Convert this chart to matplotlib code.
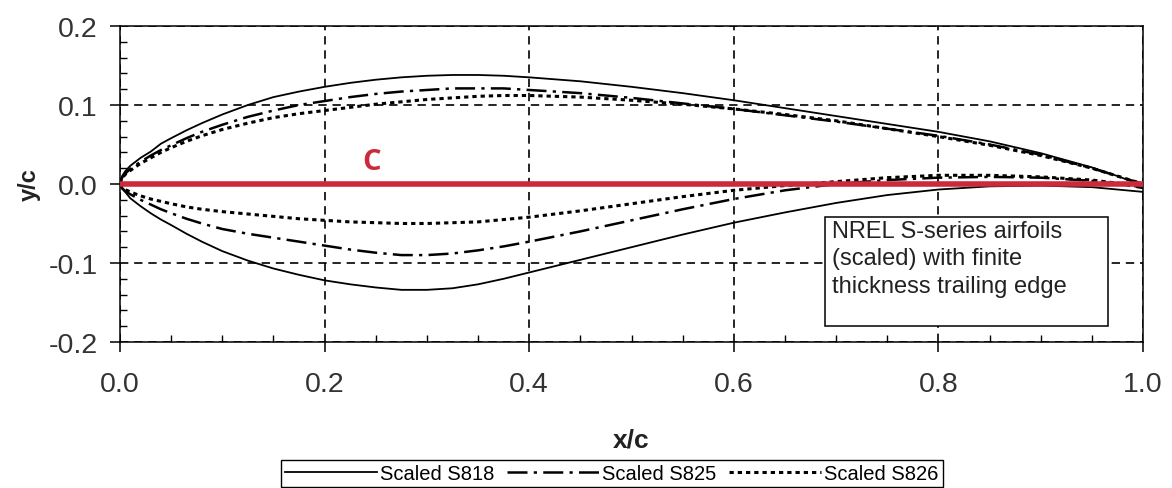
import numpy as np
import matplotlib
matplotlib.use('Agg')
import matplotlib.pyplot as plt
from matplotlib.patches import Rectangle

plt.rcParams['font.family'] = ['Liberation Sans', 'DejaVu Sans']

# chordwise stations (x/c)
x_c = [0, 0.002, 0.005, 0.01, 0.02, 0.03, 0.04, 0.05, 0.065, 0.08, 0.1, 0.125,
       0.15, 0.175, 0.2, 0.225, 0.25, 0.275, 0.3, 0.325, 0.35, 0.375, 0.4, 0.45,
       0.5, 0.55, 0.6, 0.65, 0.7, 0.75, 0.8, 0.85, 0.9, 0.95, 0.975, 1.0]

# S818 surfaces (y/c)
s818_upper = [0, 0.010, 0.016, 0.023, 0.033, 0.041, 0.051, 0.058, 0.068, 0.077, 0.088, 0.100,
              0.110, 0.117, 0.123, 0.128, 0.132, 0.135, 0.137, 0.138, 0.138, 0.137, 0.135, 0.130,
              0.123, 0.115, 0.106, 0.096, 0.086, 0.076, 0.066, 0.054, 0.039, 0.021, 0.010, -0.002]
s818_lower = [0, -0.006, -0.010, -0.018, -0.028, -0.037, -0.045, -0.052, -0.063, -0.073, -0.085, -0.097,
              -0.107, -0.115, -0.122, -0.127, -0.131, -0.134, -0.134, -0.132, -0.127, -0.120, -0.112, -0.096,
              -0.080, -0.064, -0.049, -0.036, -0.024, -0.014, -0.007, -0.003, -0.002, -0.004, -0.007, -0.010]

# S825 surfaces
s825_upper = [0, 0.008, 0.013, 0.019, 0.028, 0.036, 0.043, 0.049, 0.058, 0.066, 0.075, 0.085,
              0.093, 0.100, 0.105, 0.110, 0.114, 0.117, 0.119, 0.121, 0.121, 0.121, 0.119, 0.115,
              0.109, 0.102, 0.095, 0.087, 0.079, 0.070, 0.061, 0.050, 0.037, 0.020, 0.010, 0.000]
s825_lower = [0, -0.005, -0.009, -0.013, -0.020, -0.026, -0.032, -0.037, -0.044, -0.050, -0.057, -0.063,
              -0.068, -0.073, -0.078, -0.083, -0.087, -0.090, -0.090, -0.088, -0.084, -0.079, -0.073, -0.060,
              -0.046, -0.032, -0.019, -0.008, 0.000, 0.005, 0.008, 0.009, 0.008, 0.004, 0.000, -0.005]

# S826 surfaces
s826_upper = [0, 0.007, 0.012, 0.017, 0.026, 0.033, 0.040, 0.046, 0.054, 0.061, 0.069, 0.077,
              0.084, 0.089, 0.093, 0.097, 0.101, 0.104, 0.107, 0.109, 0.111, 0.112, 0.112, 0.110,
              0.106, 0.101, 0.095, 0.088, 0.080, 0.070, 0.060, 0.049, 0.036, 0.020, 0.010, 0.000]
s826_lower = [0, -0.004, -0.007, -0.010, -0.015, -0.019, -0.022, -0.025, -0.029, -0.032, -0.035, -0.038,
              -0.041, -0.044, -0.046, -0.048, -0.049, -0.050, -0.050, -0.049, -0.048, -0.045, -0.042, -0.034,
              -0.025, -0.016, -0.008, -0.002, 0.003, 0.008, 0.011, 0.011, 0.009, 0.005, 0.001, -0.004]

labels = ['Scaled S818', 'Scaled S825', 'Scaled S826']
red = '#cc2a3a'

fig = plt.figure(figsize=(11.72, 4.89), dpi=100)
ax = fig.add_axes([0.1024, 0.2986, 0.8729, 0.6462])

# grid first so curves sit on top
ax.grid(True, which='major', color='black', linestyle=(0, (5, 3.5)), linewidth=1.2)
ax.set_axisbelow(True)

# S818 - solid
l1, = ax.plot(x_c, s818_upper, color='black', lw=1.3, label=labels[0])
ax.plot(x_c, s818_lower, color='black', lw=1.3)

# S825 - long dash / square dot
dd = (0, (8, 2.5, 1.3, 2.5))
l2, = ax.plot(x_c, s825_upper, color='black', lw=1.8, linestyle=dd, label=labels[1])
ax.plot(x_c, s825_lower, color='black', lw=1.8, linestyle=dd)

# S826 - square dots
dt = (0, (1.4, 1.3))
l3, = ax.plot(x_c, s826_upper, color='black', lw=2.2, linestyle=dt, label=labels[2])
ax.plot(x_c, s826_lower, color='black', lw=2.2, linestyle=dt)

# chord line
ax.plot([0, 1], [0, 0], color=red, lw=4.0, solid_capstyle='butt', zorder=5)
ax.text(0.246, 0.029, 'C', color=red, fontsize=21, fontweight='bold',
        family=['Open Sans', 'DejaVu Sans'], ha='center', va='center')

ax.set_xlim(0, 1)
ax.set_ylim(-0.2, 0.2)
ax.set_xticks(np.arange(0, 1.01, 0.2))
ax.set_yticks(np.arange(-0.2, 0.21, 0.1))
ax.set_xticks(np.arange(0, 1.001, 0.05), minor=True)
ax.set_yticks(np.arange(-0.2, 0.201, 0.02), minor=True)
ax.xaxis.set_major_formatter(matplotlib.ticker.FormatStrFormatter('%.1f'))
ax.yaxis.set_major_formatter(matplotlib.ticker.FormatStrFormatter('%.1f'))
ax.tick_params(which='major', direction='out', length=7, width=1.1,
               labelsize=20.5, labelcolor='#333333', pad=9)
ax.tick_params(axis='x', which='major', pad=14)
ax.tick_params(which='minor', direction='in', length=5, width=1.0)
for s in ax.spines.values():
    s.set_linewidth(1.1)

ax.set_xlabel('x/c', fontsize=19, fontweight='bold', color='#222222', labelpad=22)
ax.set_ylabel('y/c', fontsize=17, fontweight='bold', color='#222222', labelpad=6)

# note box
ax.add_patch(Rectangle((0.689, -0.180), 0.277, 0.138, facecolor='white',
                       edgecolor='black', lw=1.1, zorder=6))
ax.text(0.696, -0.045, 'NREL S-series airfoils\n(scaled) with finite\nthickness trailing edge',
        fontsize=17, color='#222222', ha='left', va='top', linespacing=1.35, zorder=7)

fig.legend(handles=[l1, l2, l3], labels=labels, loc='lower center',
           bbox_to_anchor=(0.522, 0.0), ncol=3, fontsize=14.5, frameon=True,
           fancybox=False, edgecolor='black', framealpha=1, borderpad=0.2,
           handlelength=4.6, handletextpad=0.15, columnspacing=0.6,
           borderaxespad=0.05)

fig.savefig('out.png', dpi=100)
